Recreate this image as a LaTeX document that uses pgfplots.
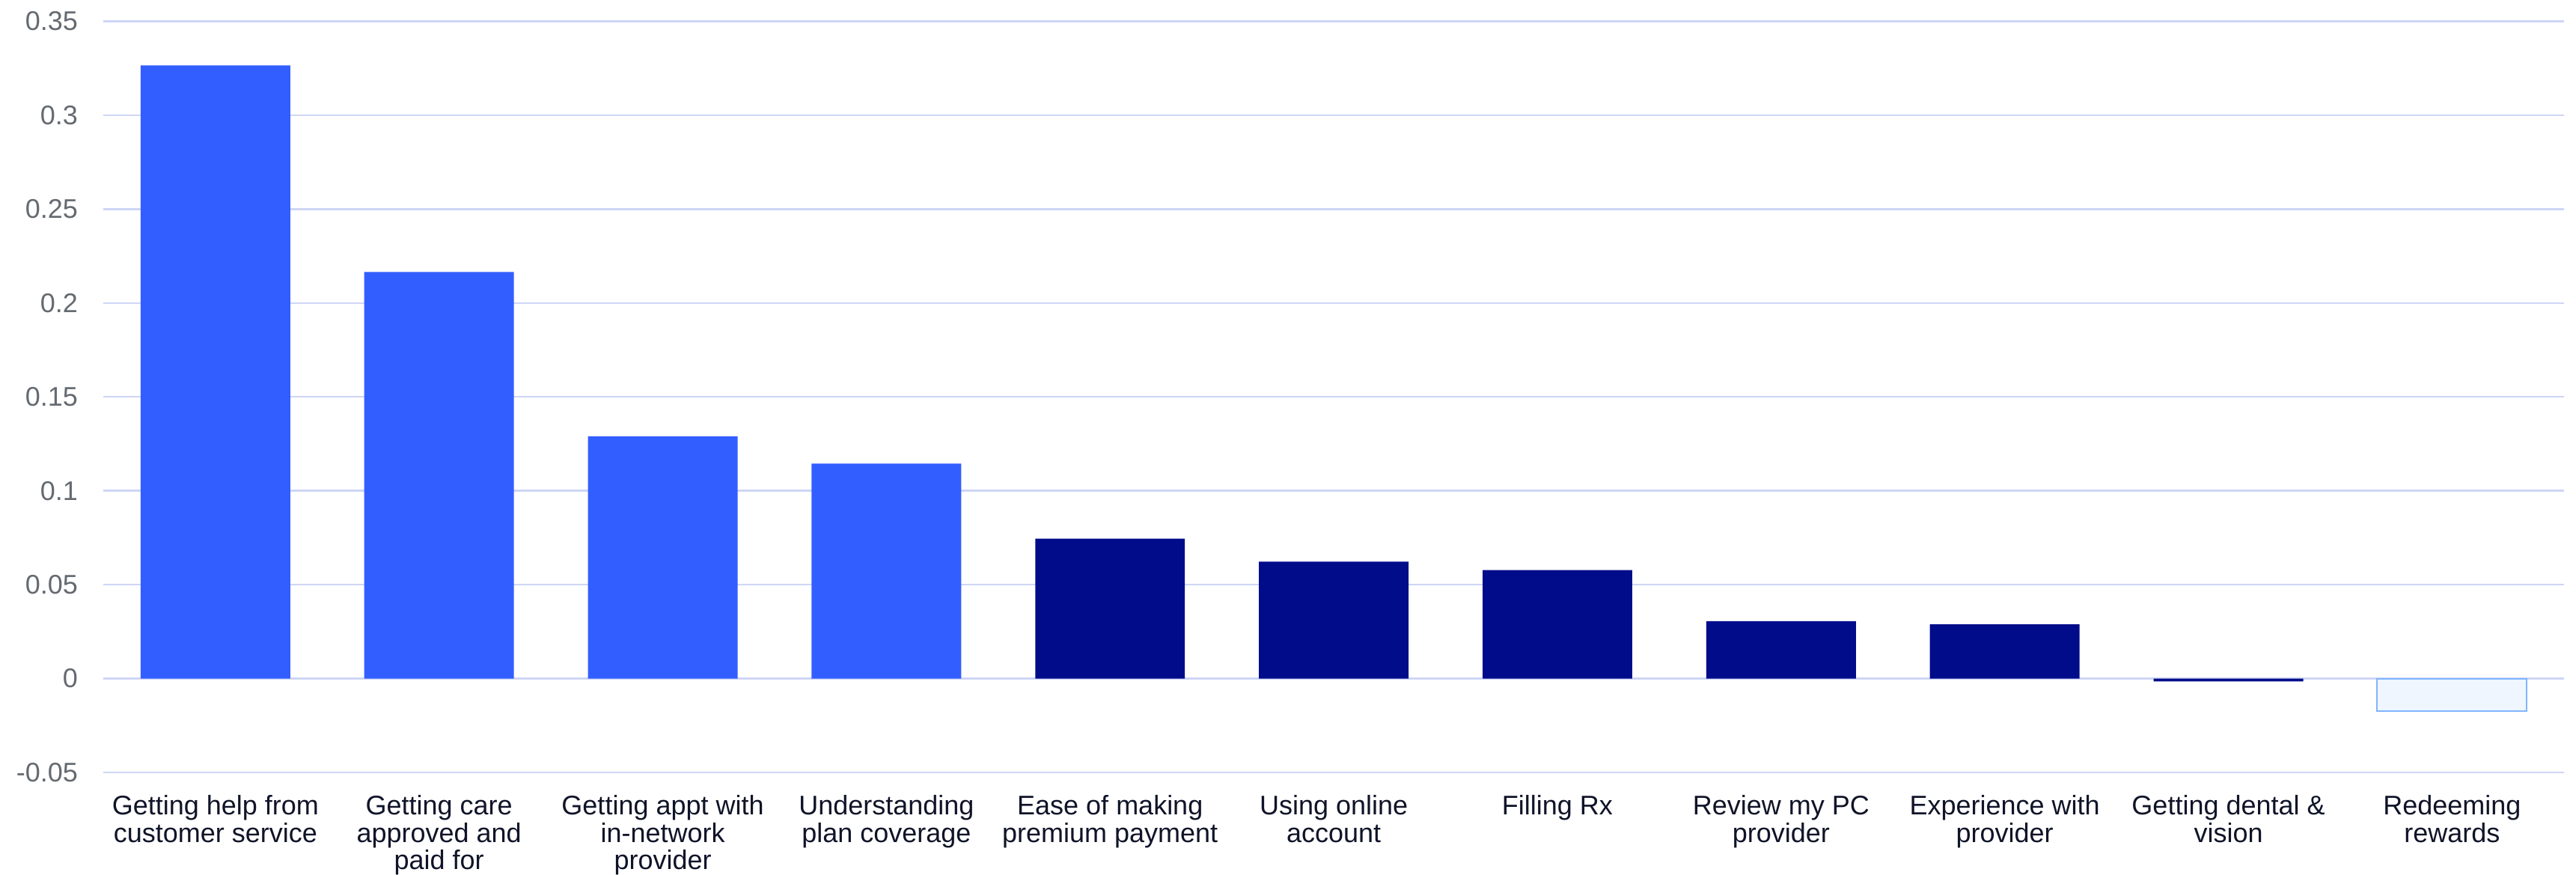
\documentclass[border=0pt]{standalone}
\usepackage{fontspec}
\setmainfont{Liberation Sans}
\usepackage{pgfplots}
\pgfplotsset{compat=1.18}
\definecolor{gridc}{RGB}{206,214,245}
\definecolor{tickc}{RGB}{100,106,112}
\definecolor{labc}{RGB}{15,20,40}
\definecolor{barblue}{RGB}{51,94,255}
\definecolor{barnavy}{RGB}{0,12,138}
\definecolor{barlight}{RGB}{239,246,255}
\definecolor{barlightedge}{RGB}{128,180,255}
\begin{document}
\begin{tikzpicture}
\begin{axis}[
  scale only axis, width=821.85pt, height=250.9pt,
  xmin=-0.5, xmax=10.5, ymin=-0.05, ymax=0.35,
  axis line style={draw=none},
  major tick length=0pt,
  ymajorgrids, grid style={gridc, line width=0.6pt},
  xtick={0,1,2,3,4,5,6,7,8,9,10},
  xticklabels={{Getting help from\\customer service},{Getting care\\approved and\\paid for},{Getting appt with\\in-network\\provider},{Understanding\\plan coverage},{Ease of making\\premium payment},{Using online\\account},{Filling Rx},{Review my PC\\provider},{Experience with\\provider},{Getting dental \&\\vision},{Redeeming\\rewards}},
  ytick={-0.05,0,0.05,0.1,0.15,0.2,0.25,0.3,0.35},
  yticklabels={-0.05,0,0.05,0.1,0.15,0.2,0.25,0.3,0.35},
  yticklabel style={font=\fontsize{9}{9}\selectfont, text=tickc, inner sep=0pt, xshift=-8.4pt},
  xticklabel style={font=\fontsize{9}{9.1}\selectfont, text=labc, align=center, inner sep=0pt, yshift=-7.5pt},
  ybar, bar width=0.669, bar shift=0pt,
]
\addplot[fill=barblue, draw=none] coordinates {(0,0.3265) (1,0.2165) (2,0.1290) (3,0.1145)};
\addplot[fill=barnavy, draw=none] coordinates {(4,0.0745) (5,0.0622) (6,0.0578) (7,0.0306) (8,0.0289) (9,-0.0015)};
\addplot[fill=barlight, draw=barlightedge, line width=0.5pt] coordinates {(10,-0.0175)};
\end{axis}
\pgfresetboundingbox
\path ([xshift=-34.6pt,yshift=-34pt]current axis.south west) rectangle ([xshift=4.05pt,yshift=7.1pt]current axis.north east);
\end{tikzpicture}
\end{document}
